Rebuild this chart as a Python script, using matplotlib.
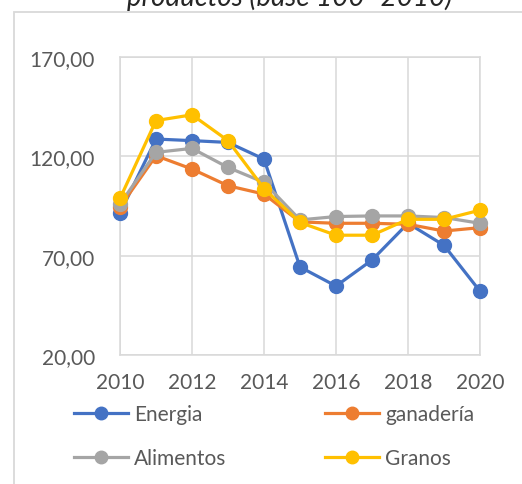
import matplotlib
matplotlib.use("Agg")
import matplotlib.pyplot as plt
from matplotlib.lines import Line2D
from matplotlib.patches import Rectangle

years = [2010, 2011, 2012, 2013, 2014, 2015, 2016, 2017, 2018, 2019, 2020]
energia = [91.5, 128.7, 127.9, 127.0, 118.6, 64.3, 54.7, 67.8, 86.3, 75.2, 52.1]
ganaderia = [94.5, 120.3, 113.6, 105.2, 101.0, 87.0, 86.3, 86.3, 85.8, 82.4, 84.1]
alimentos = [96.0, 122.0, 124.0, 114.4, 106.9, 88.0, 89.7, 90.0, 90.0, 89.2, 86.3]
granos = [98.8, 138.0, 140.9, 127.9, 103.8, 86.7, 80.3, 80.3, 88.3, 88.3, 92.9]
names = ["Energia", "ganadería", "Alimentos", "Granos"]
colors = ["#4472C4", "#ED7D31", "#A5A5A5", "#FFC000"]
yticks = [20, 70, 120, 170]
ytick_labels = ["20,00", "70,00", "120,00", "170,00"]
xticks = [2010, 2012, 2014, 2016, 2018, 2020]
title = "productos (base 100=2010)"

plt.rcParams['font.family'] = ['Lato', 'DejaVu Sans']

W, H = 522, 485
fig = plt.figure(figsize=(W / 100, H / 100), dpi=100)
fig.patch.set_facecolor("white")

# chart frame (cut off at right and bottom)
fig.add_artist(Rectangle((14 / W, -0.1), 1.2, 1 - 13 / H + 0.1, transform=fig.transFigure,
                         fill=False, edgecolor="#D9D9D9", linewidth=1.3))
fig.text(290 / W, 1 - 6 / H, title, ha="center", va="baseline", fontsize=20,
         style="italic", color="#262626")

ax = fig.add_axes([120 / W, 1 - 356 / H, 360 / W, 298 / H])
series = [energia, ganaderia, alimentos, granos]
for vals, c, n in zip(series, colors, names):
    ax.plot(years, vals, color=c, lw=2.3, marker="o", markersize=10, label=n,
            clip_on=False, zorder=3)

ax.set_xlim(2010, 2020)
ax.set_ylim(20, 170)
ax.set_yticks(yticks)
ax.set_yticklabels(ytick_labels)
ax.set_xticks(xticks)
ax.grid(True, color="#D9D9D9", lw=1.1)
for s in ax.spines.values():
    s.set_color("#D9D9D9")
    s.set_linewidth(1.1)
ax.tick_params(length=0, labelsize=15, colors="#595959", pad=8)
ax.tick_params(axis="y", pad=18)
ax.tick_params(axis="x", pad=12)

handles = [Line2D([], [], color=c, lw=2.3, marker="o", markersize=9) for c in colors]
order = [0, 2, 1, 3]
fig.legend([handles[i] for i in order], [names[i] for i in order],
           ncol=2, loc="center", bbox_to_anchor=(274 / W, 1 - 437 / H),
           frameon=False, fontsize=15, labelcolor="#595959", handlelength=2.6,
           handletextpad=0.3, columnspacing=4.7, labelspacing=1.15)

fig.savefig("out.png", dpi=100, facecolor="white")
